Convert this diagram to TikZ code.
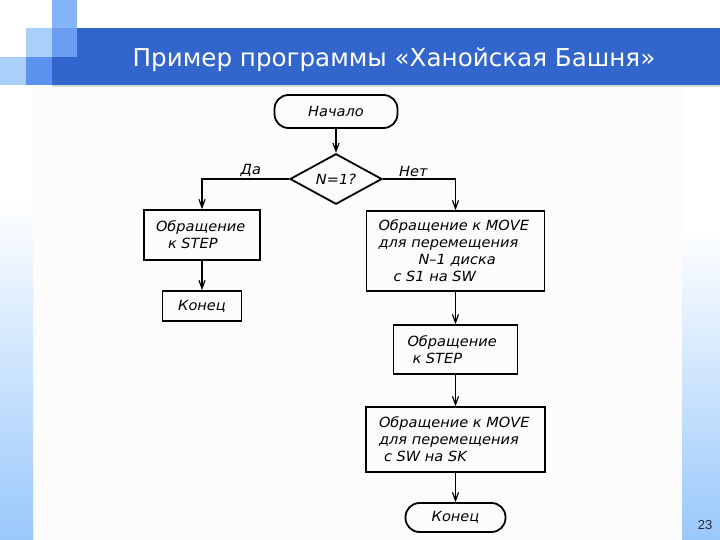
\documentclass[tikz,border=0pt]{standalone}
\usepackage{fontspec}
\setmainfont{DejaVu Sans}
\newfontfamily\titlefont{DejaVu Sans}
\newfontfamily\flowfont[FakeStretch=1.04,WordSpace=2.2]{DejaVu Sans}
\newfontfamily\numfont{Liberation Sans}
\usetikzlibrary{positioning,shapes,arrows,arrows.meta}

\definecolor{barblue}{HTML}{3366CC}
\definecolor{sqlight}{HTML}{A8D0FB}
\definecolor{sqmid}{HTML}{6B9EF2}
\definecolor{sqdark}{HTML}{5D93F0}
\definecolor{sqtop}{HTML}{85B5F8}
\definecolor{sideblue}{HTML}{99C8FB}
\definecolor{scanbg}{HTML}{FCFCFC}
\definecolor{numcol}{HTML}{1F2440}

\begin{document}
\begin{tikzpicture}[x=1pt,y=-1pt,
block/.style={rectangle, draw=black, line width=1.8pt, align=left, inner ysep=0pt,
  font=\flowfont\itshape\fontsize{14}{17}\selectfont},
term/.style={block, rounded corners=14pt, align=center, inner sep=0pt},
decision/.style={diamond, draw=black, line width=1.8pt, inner sep=0pt,
  font=\flowfont\itshape\fontsize{14}{17}\selectfont},
arr/.style={-{Straight Barb[length=8pt,width=6pt]}, line width=1.2pt},
lbl/.style={font=\flowfont\itshape\fontsize{14}{15}\selectfont, inner sep=1.5pt},
]
\useasboundingbox (0,0) rectangle (720,540);
\fill[white] (0,0) rectangle (720,540);

% slide background
\fill[scanbg] (33,86) rectangle (682,540);
\shade[top color=white, bottom color=sideblue] (0,200) rectangle (33,540);
\shade[top color=white, bottom color=sideblue] (682,230) rectangle (720,540);
\fill[black!15] (52,85) rectangle (720,87.5);
\fill[barblue] (52,28) rectangle (720,85);
\fill[sqtop] (52,0) rectangle (77,28);
\fill[sqlight] (26,28) rectangle (52,57);
\fill[sqmid] (52,28) rectangle (77,57);
\fill[sqlight] (0,57) rectangle (26,85);
\fill[sqdark] (26,57) rectangle (52,85);

\node[text=white, font=\titlefont\fontsize{24.6}{30}\selectfont] (title) at (394,60) {Пример программы «Ханойская Башня»};
\node[text=numcol, font=\numfont\fontsize{13}{15}\selectfont] (pagenum) at (705,525) {23};

% flowchart
\node[term, minimum width=123pt, minimum height=33pt] (start) at (336,111.5) {Начало};
\node[decision, minimum width=92pt, minimum height=48pt] (check) at (336,179) {N=1?};
\node[block, text width=92pt, inner xsep=12pt, minimum height=50pt] (step1) at (202,235)
  {Обращение\\\hspace*{12pt}к STEP};
\node[block, align=center, minimum width=79pt, minimum height=30pt] (stop1) at (202,306) {Конец};
\node[block, text width=154pt, inner xsep=12pt, minimum height=80pt] (move1) at (455.5,251)
  {Обращение к MOVE\\для перемещения\\\hspace*{40pt}N–1 диска\\\hspace*{15pt}с S1 на SW};
\node[block, text width=96pt, inner xsep=14pt, minimum height=49pt] (step2) at (455.5,349.5)
  {Обращение\\\hspace*{5pt}к STEP};
\node[block, text width=153pt, inner xsep=13pt, minimum height=65pt] (move2) at (455.5,439.5)
  {Обращение к MOVE\\для перемещения\\\hspace*{5pt}с SW на SK};
\node[term, minimum width=100pt, minimum height=29pt] (stop2) at (455.5,517.5) {Конец};

\draw[arr] (start) -- (check);
\draw[arr] (check.west) -| node[lbl, pos=0.22, above] {Да} (step1.north);
\draw[arr] (check.east) -| node[lbl, pos=0.21, above] {Нет} (move1.north);
\draw[arr] (step1) -- (stop1);
\draw[arr] (move1) -- (step2);
\draw[arr] (step2) -- (move2);
\draw[arr] (move2) -- (stop2);

\end{tikzpicture}
\end{document}
